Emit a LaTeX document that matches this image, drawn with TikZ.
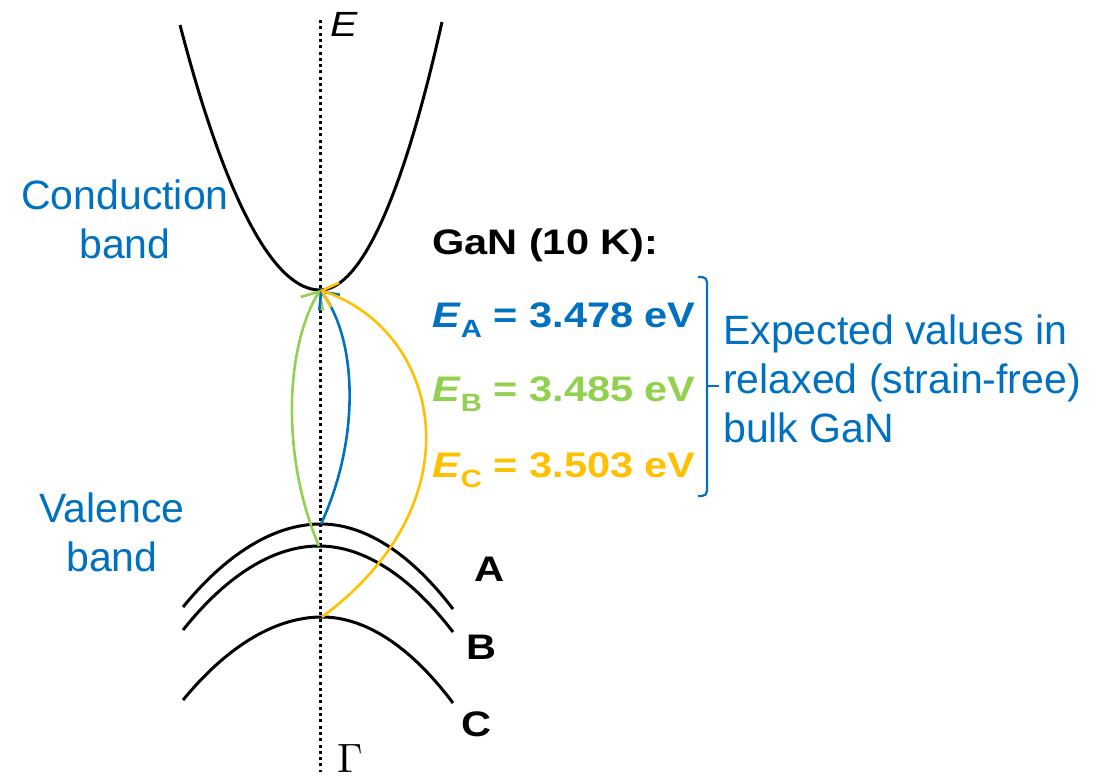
\documentclass[tikz,border=0pt]{standalone}
\usepackage{fontspec}
\setmainfont{Liberation Sans}
\newfontfamily\widefont{Liberation Sans}[FakeStretch=1.17]
\usetikzlibrary{arrows.meta,positioning,calc}
\definecolor{BandBlue}{RGB}{0,112,192}
\definecolor{BandGreen}{RGB}{146,208,80}
\definecolor{BandGold}{RGB}{255,192,0}
\newcommand{\subidx}[1]{\raisebox{-0.3em}{\fontsize{25}{25}\selectfont #1}}
\tikzset{
  band/.style={draw=black,line width=3pt},
  gammaline/.style={draw=black,line width=3pt,dash pattern=on 3pt off 3.3pt},
  trans/.style={-{Straight Barb[length=14pt,width=26pt]},line width=2.6pt},
  bluelabel/.style={text=BandBlue,font=\fontsize{41}{49}\selectfont,align=center},
  gaplabel/.style={anchor=base west,inner sep=0pt,font=\widefont\bfseries\fontsize{35.5}{40}\selectfont},
  bandname/.style={anchor=base west,inner sep=0pt,font=\widefont\bfseries\fontsize{35.5}{40}\selectfont}
}

\begin{document}
\begin{tikzpicture}[x=1pt,y=-1pt]
\useasboundingbox (0,0) rectangle (1106,777);
\coordinate (top) at (320,20);
\coordinate (bottom) at (320,772);
\coordinate (cbmin) at (320,290);
\coordinate (vbA) at (321,524);
\coordinate (vbB) at (319,546);
\coordinate (vbC) at (322,617);

% Gamma axis
\draw[gammaline] (top) -- (bottom);
\node[inner sep=0pt,anchor=base west,font=\widefont\itshape\fontsize{35}{40}\selectfont] (Elabel) at (330,36) {E};
\node[inner sep=0pt,anchor=south west] (Glabel) at (337,773) {\scalebox{4.1}{$\Gamma$}};

% bands
\draw[band] (180,25) parabola bend (cbmin) (442,22);
\draw[band] (183,607) parabola bend (vbA) (453,609);
\draw[band] (183,630) parabola bend (vbB) (453,632);
\draw[band] (183,700) parabola bend (vbC) (453,703);

% transitions
\draw[trans,BandGreen] (vbB) .. controls (282,460) and (284,350) .. (cbmin);
\draw[trans,BandBlue] (vbA) .. controls (360,440) and (358,340) .. (cbmin);
\draw[trans,BandGold] (vbC) .. controls (480,500) and (440,330) .. (cbmin);

% labels
\node[bluelabel] (cblabel) at (125,219) {Conduction\\band};
\node[bluelabel] (vblabel) at (112,532) {Valence\\band};
\node[bandname] (Alabel) at (474,581) {A};
\node[bandname] (Blabel) at (466,659) {B};
\node[bandname] (Clabel) at (461,736) {C};

\node[gaplabel] (gan) at (432,254) {GaN (10 K):};
\node[gaplabel,text=BandBlue] (EA) at (432,327) {\textit{E}\subidx{A} = 3.478 eV};
\node[gaplabel,text=BandGreen] (EB) at (432,401) {\textit{E}\subidx{B} = 3.485 eV};
\node[gaplabel,text=BandGold] (EC) at (432,477) {\textit{E}\subidx{C} = 3.503 eV};

% bracket
\coordinate (braceTop) at (698,277);
\coordinate (braceMid) at (707,386);
\coordinate (braceTip) at (719,386);
\coordinate (braceBot) at (698,496);
\draw[BandBlue,line width=2.2pt,rounded corners=5pt] (braceTop) -| (braceMid) |- (braceBot);
\draw[BandBlue,line width=2.2pt] (braceMid) -- (braceTip);
\node[bluelabel,anchor=base west,align=left,inner sep=0pt] (expected) at (723,442) {Expected values in\\relaxed (strain-free)\\bulk GaN};
\end{tikzpicture}
\end{document}
